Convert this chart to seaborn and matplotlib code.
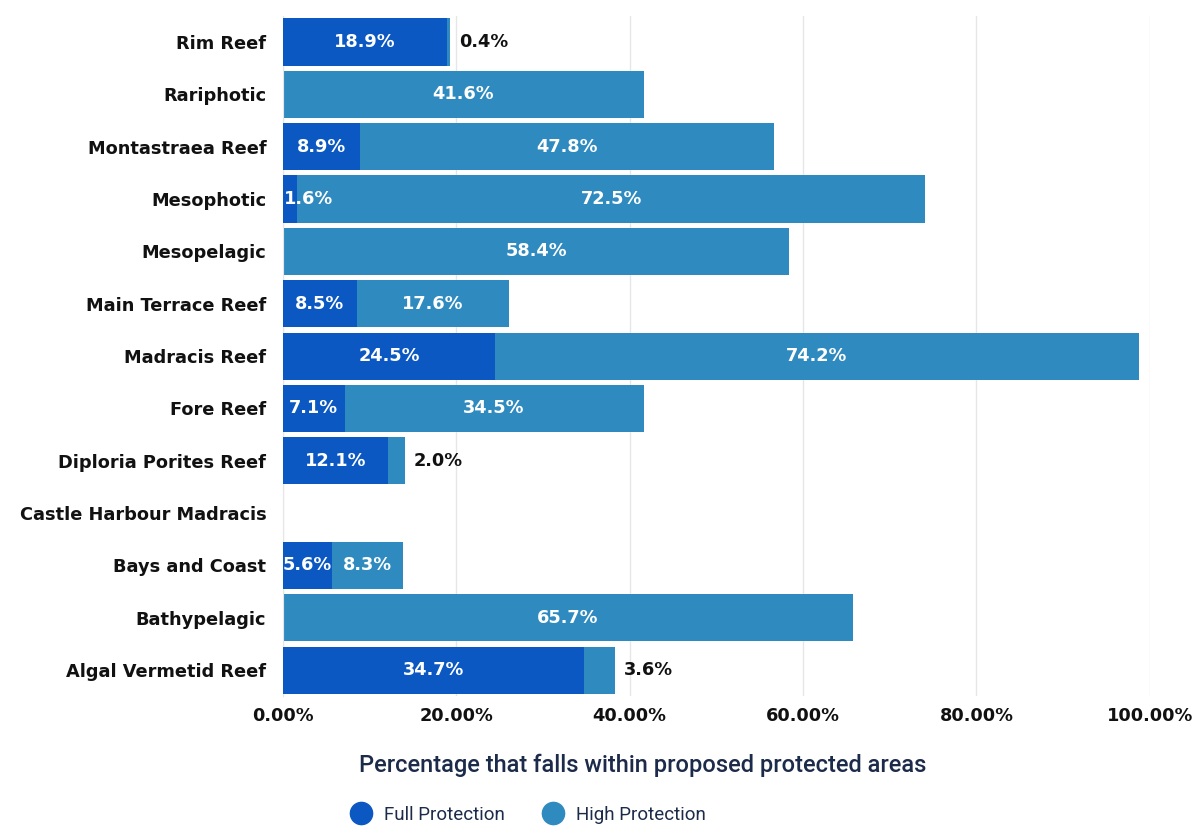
import matplotlib
matplotlib.use("Agg")
import matplotlib.pyplot as plt
from matplotlib.lines import Line2D
import seaborn as sns
import pandas as pd

categories = ["Rim Reef", "Rariphotic", "Montastraea Reef", "Mesophotic", "Mesopelagic",
              "Main Terrace Reef", "Madracis Reef", "Fore Reef", "Diploria Porites Reef",
              "Castle Harbour Madracis", "Bays and Coast", "Bathypelagic", "Algal Vermetid Reef"]
full = [18.9, 0, 8.9, 1.6, 0, 8.5, 24.5, 7.1, 12.1, 0, 5.6, 0, 34.7]
high = [0.4, 41.6, 47.8, 72.5, 58.4, 17.6, 74.2, 34.5, 2.0, 0, 8.3, 65.7, 3.6]
ticks = [0, 20, 40, 60, 80, 100]

full_color = "#0b58c3"
high_color = "#2f8bbf"
navy = "#1c2b4a"

df = pd.DataFrame({"category": categories, "full": full, "high": high})
df["total"] = df["full"] + df["high"]

sns.set_style("white")
plt.rcParams["font.family"] = ["DejaVu Sans"]

fig = plt.figure(figsize=(11.99, 8.3), dpi=100)
ax = fig.add_axes([0.236, 0.161, 0.723, 0.820])

sns.barplot(data=df, y="category", x="total", color=high_color, orient="h",
            width=0.9, saturation=1, linewidth=0, ax=ax, zorder=2)
sns.barplot(data=df, y="category", x="full", color=full_color, orient="h",
            width=0.9, saturation=1, linewidth=0, ax=ax, zorder=3)

fs = 12.8
for i, row in df.iterrows():
    f, h, t = row["full"], row["high"], row["total"]
    if f > 0:
        if f < 3:
            ax.text(0.1, i, f"{f:.1f}%", ha="left", va="center", color="white",
                    fontsize=fs, fontweight="bold", zorder=4)
        else:
            ax.text(f / 2, i, f"{f:.1f}%", ha="center", va="center", color="white",
                    fontsize=fs, fontweight="bold", zorder=4)
    if h > 0:
        if h < 4:
            ax.text(t + 1.0, i, f"{h:.1f}%", ha="left", va="center", color="#111111",
                    fontsize=fs, fontweight="bold", zorder=4)
        else:
            ax.text(f + h / 2, i, f"{h:.1f}%", ha="center", va="center", color="white",
                    fontsize=fs, fontweight="bold", zorder=4)

ax.set_xlim(0, 100)
ax.set_ylim(len(categories) - 0.5, -0.5)
ax.set_xticks(ticks)
ax.set_xticklabels([f"{t:.2f}%" for t in ticks], fontsize=fs, fontweight="bold")
ax.tick_params(axis="y", labelsize=fs, length=0, pad=12, labelcolor="#111111")
ax.tick_params(axis="x", length=0, pad=8, labelcolor="#111111")
for lab in ax.get_yticklabels():
    lab.set_fontweight("bold")
ax.set_xlabel("")
ax.set_ylabel("")
ax.xaxis.grid(True, color="#e6e6e6", linewidth=1, zorder=0)
ax.set_axisbelow(True)
for s in ["top", "right", "bottom"]:
    ax.spines[s].set_visible(False)
ax.spines["left"].set_color("#e6e6e6")

fig.text(0.536, 0.078, "Percentage that falls within proposed protected areas",
         ha="center", va="center", fontsize=17, color=navy,
         family=["Roboto", "DejaVu Sans"], fontweight="medium")

handles = [Line2D([0], [0], marker="o", linestyle="", markersize=16,
                  markerfacecolor=full_color, markeredgecolor=full_color),
           Line2D([0], [0], marker="o", linestyle="", markersize=16,
                  markerfacecolor=high_color, markeredgecolor=high_color)]
leg = fig.legend(handles, ["Full Protection", "High Protection"], loc="center",
                 bbox_to_anchor=(0.437, 0.018), ncol=2, frameon=False,
                 handletextpad=0.2, columnspacing=1.6,
                 prop={"family": ["Roboto", "DejaVu Sans"], "size": 13.5})
for t in leg.get_texts():
    t.set_color(navy)

fig.savefig("out.png", dpi=100)
